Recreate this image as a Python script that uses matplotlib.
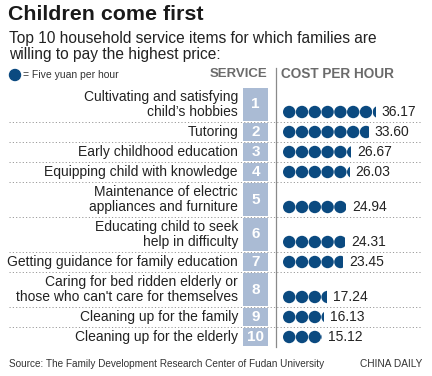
import matplotlib.pyplot as plt
from matplotlib.patches import Circle, Rectangle

services = [
    "Cultivating and satisfying\nchild\u2019s hobbies",
    "Tutoring",
    "Early childhood education",
    "Equipping child with knowledge",
    "Maintenance of electric\nappliances and furniture",
    "Educating child to seek\nhelp in difficulty",
    "Getting guidance for family education",
    "Caring for bed ridden elderly or\nthose who can't care for themselves",
    "Cleaning up for the family",
    "Cleaning up for the elderly",
]
costs = [36.17, 33.60, 26.67, 26.03, 24.94, 24.31, 23.45, 17.24, 16.13, 15.12]
ranks = [str(i) for i in range(1, 11)]
yuan_per_dot = 5

navy = "#0b4a80"
box_blue = "#aabbd4"
gray = "#6b6b6b"
text_dark = "#222222"
main_font = ["Liberation Sans", "DejaVu Sans"]
narrow_font = ["Liberation Sans Narrow", "Liberation Sans", "DejaVu Sans"]

fig = plt.figure(figsize=(4.32, 3.76), dpi=100)
ax = fig.add_axes([0, 0, 1, 1])
ax.set_xlim(0, 432)
ax.set_ylim(376, 0)
ax.axis("off")

# header texts
ax.text(8, 15, "Children come first", fontsize=15.4, fontweight="bold",
        family=main_font, color="#1a1a1a", va="center", ha="left")
ax.text(9, 38, "Top 10 household service items for which families are",
        fontsize=11.2, family=main_font, color=text_dark, va="center")
ax.text(9, 55, "willing to pay the highest price:",
        fontsize=11.2, family=main_font, color=text_dark, va="center")

ax.add_patch(Circle((15, 75), 5.5, color=navy))
ax.text(23, 75.5, "= Five yuan per hour", fontsize=7.5, family=narrow_font,
        color="#333333", va="center")
ax.text(267, 74, "SERVICE", fontsize=9.5, fontweight="bold", family=narrow_font,
        color=gray, ha="right", va="center")
ax.text(281, 74, "COST PER HOUR", fontsize=9.8, fontweight="bold",
        family=narrow_font, color=gray, ha="left", va="center")

# row layout
line_h = 15
y = 87
dot_x0 = 283
pitch = 12.8
radius = 6.2
row_bounds = []
for label in services:
    n_lines = label.count("\n") + 1
    h = 20 if n_lines == 1 else 35
    row_bounds.append((y, y + h, n_lines))
    y += h

for i, (label, cost, rank) in enumerate(zip(services, costs, ranks)):
    top, bottom, n_lines = row_bounds[i]
    mid = (top + bottom) / 2
    ax.text(238, mid, label, fontsize=10, family=main_font, color=text_dark,
            ha="right", va="center", linespacing=1.1, multialignment="right")
    ax.add_patch(Rectangle((243, top + 1), 25, bottom - top - 2,
                           color=box_blue, lw=0))
    ax.text(255.5, mid, rank, fontsize=11, fontweight="bold",
            family=main_font, color="white", ha="center", va="center")

    dot_y = mid if n_lines == 1 else mid + line_h / 2
    n_dots = cost / yuan_per_dot
    full = int(n_dots)
    frac = n_dots - full
    for k in range(full):
        ax.add_patch(Circle((dot_x0 + radius + k * pitch, dot_y), radius,
                            color=navy, lw=0))
    if frac > 0:
        left = dot_x0 + full * pitch
        c = Circle((left + radius, dot_y), radius, color=navy, lw=0)
        ax.add_patch(c)
        clip = Rectangle((left, dot_y - radius - 1), frac * 2 * radius,
                         2 * radius + 2, transform=ax.transData)
        c.set_clip_path(clip)
    end_x = dot_x0 + full * pitch + frac * 2 * radius
    ax.text(end_x + 6, dot_y, f"{cost:.2f}", fontsize=10, family=main_font,
            color=text_dark, ha="left", va="center")

    if i < len(services) - 1:
        ax.plot([9, 422], [bottom, bottom], color="#9a9a9a", lw=0.7,
                linestyle=(0, (1.2, 2.2)))

ax.plot([276, 276], [68, row_bounds[-1][1]], color="#8a8a8a", lw=0.9)

ax.text(9, 364, "Source: The Family Development Research Center of Fudan University",
        fontsize=7.2, family=narrow_font, color="#333333", va="center")
ax.text(422, 364, "CHINA DAILY", fontsize=7.3, family=narrow_font,
        color="#333333", va="center", ha="right")

fig.savefig("out.png", dpi=100)
